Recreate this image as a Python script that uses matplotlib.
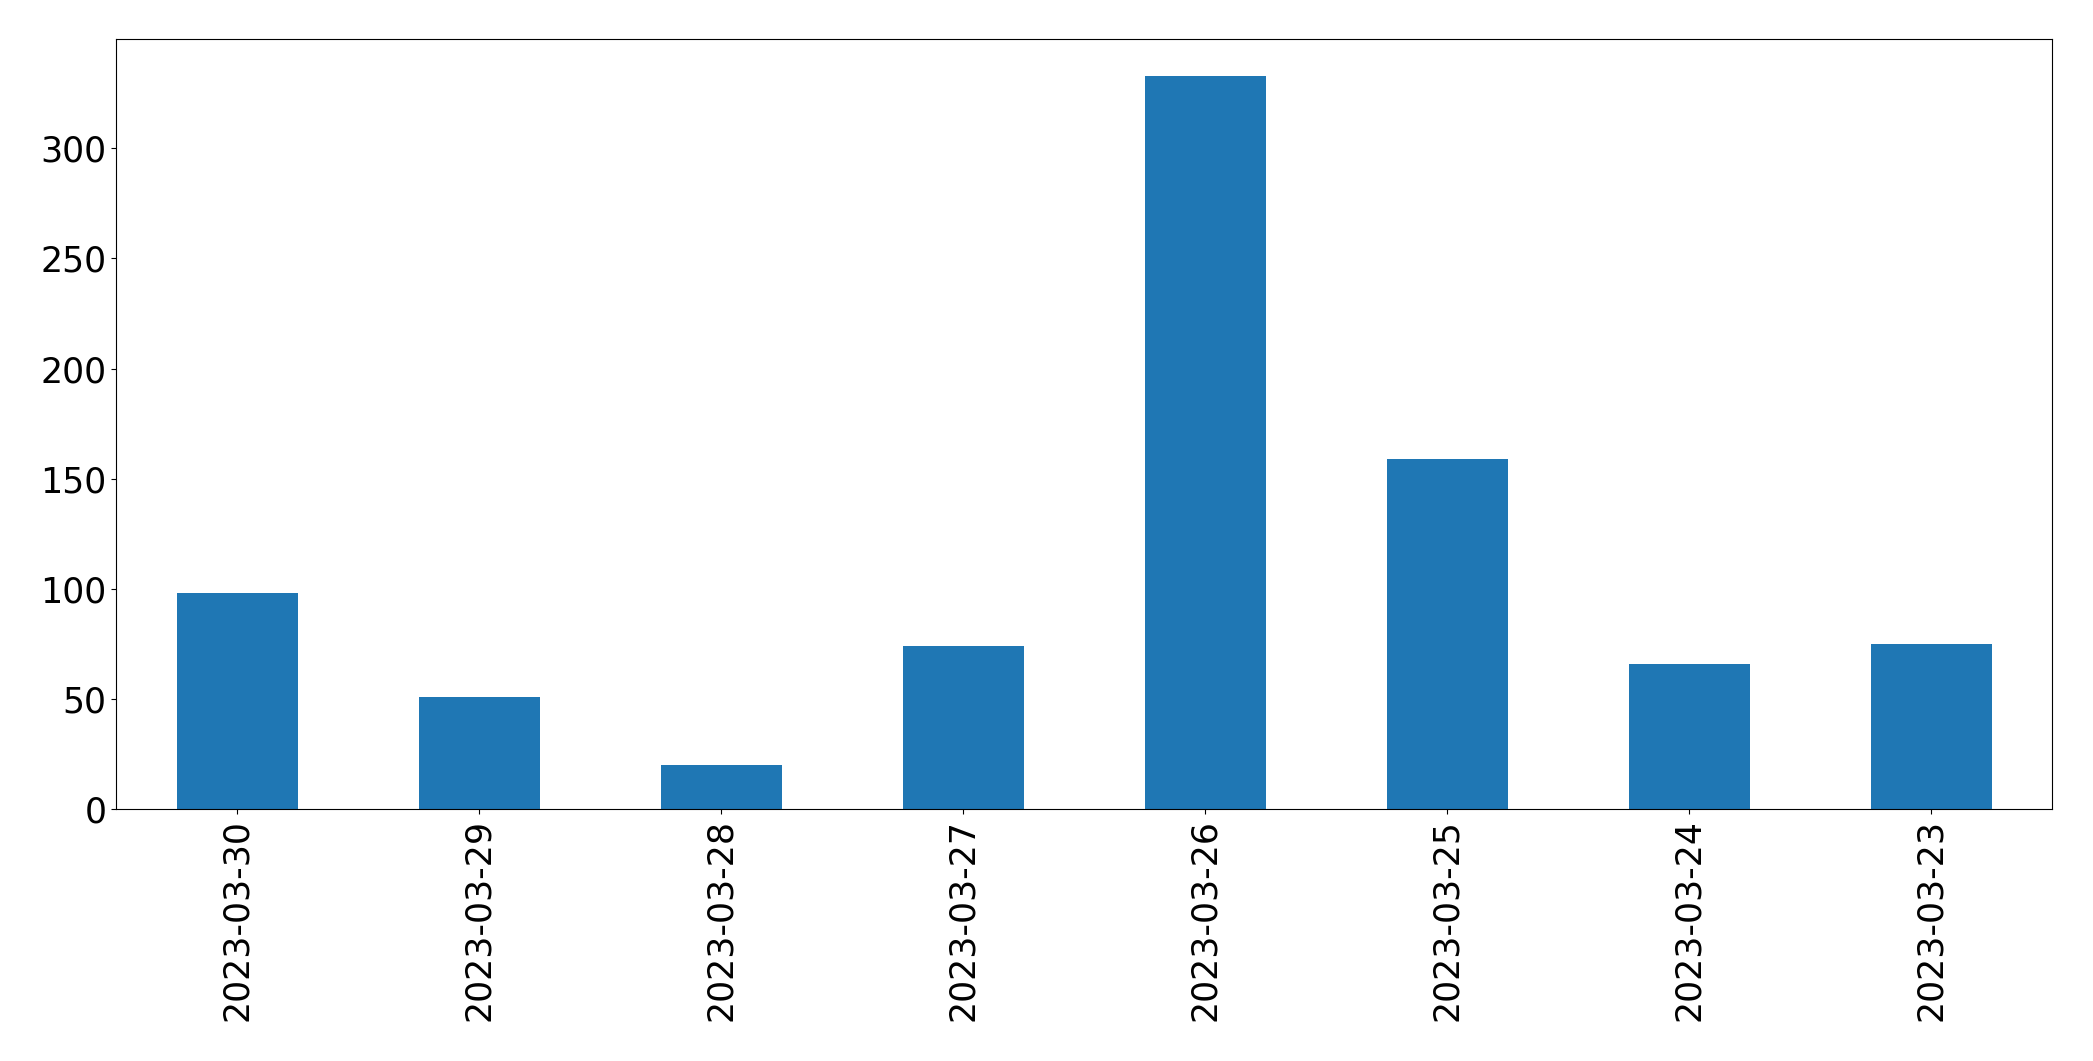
import matplotlib
matplotlib.use("Agg")
import matplotlib.pyplot as plt

# 날짜별 건수 (막대그래프)
dates = ["2023-03-30", "2023-03-29", "2023-03-28", "2023-03-27",
         "2023-03-26", "2023-03-25", "2023-03-24", "2023-03-23"]
counts = [98, 51, 20, 74, 333, 159, 66, 75]

fig = plt.figure(figsize=(20.93, 10.61), dpi=100)
ax = fig.add_axes([116 / 2093, 1 - 809 / 1061, (2052 - 116) / 2093, (809 - 39) / 1061])

xs = list(range(len(dates)))
ax.bar(xs, counts, width=0.5, color="#1f77b4")
ax.set_xlim(-0.5, len(dates) - 0.5)
ax.set_xticks(xs)
ax.set_xticklabels(dates, rotation=90)
ax.tick_params(axis="both", labelsize=25)

fig.savefig("out.png", dpi=100)
